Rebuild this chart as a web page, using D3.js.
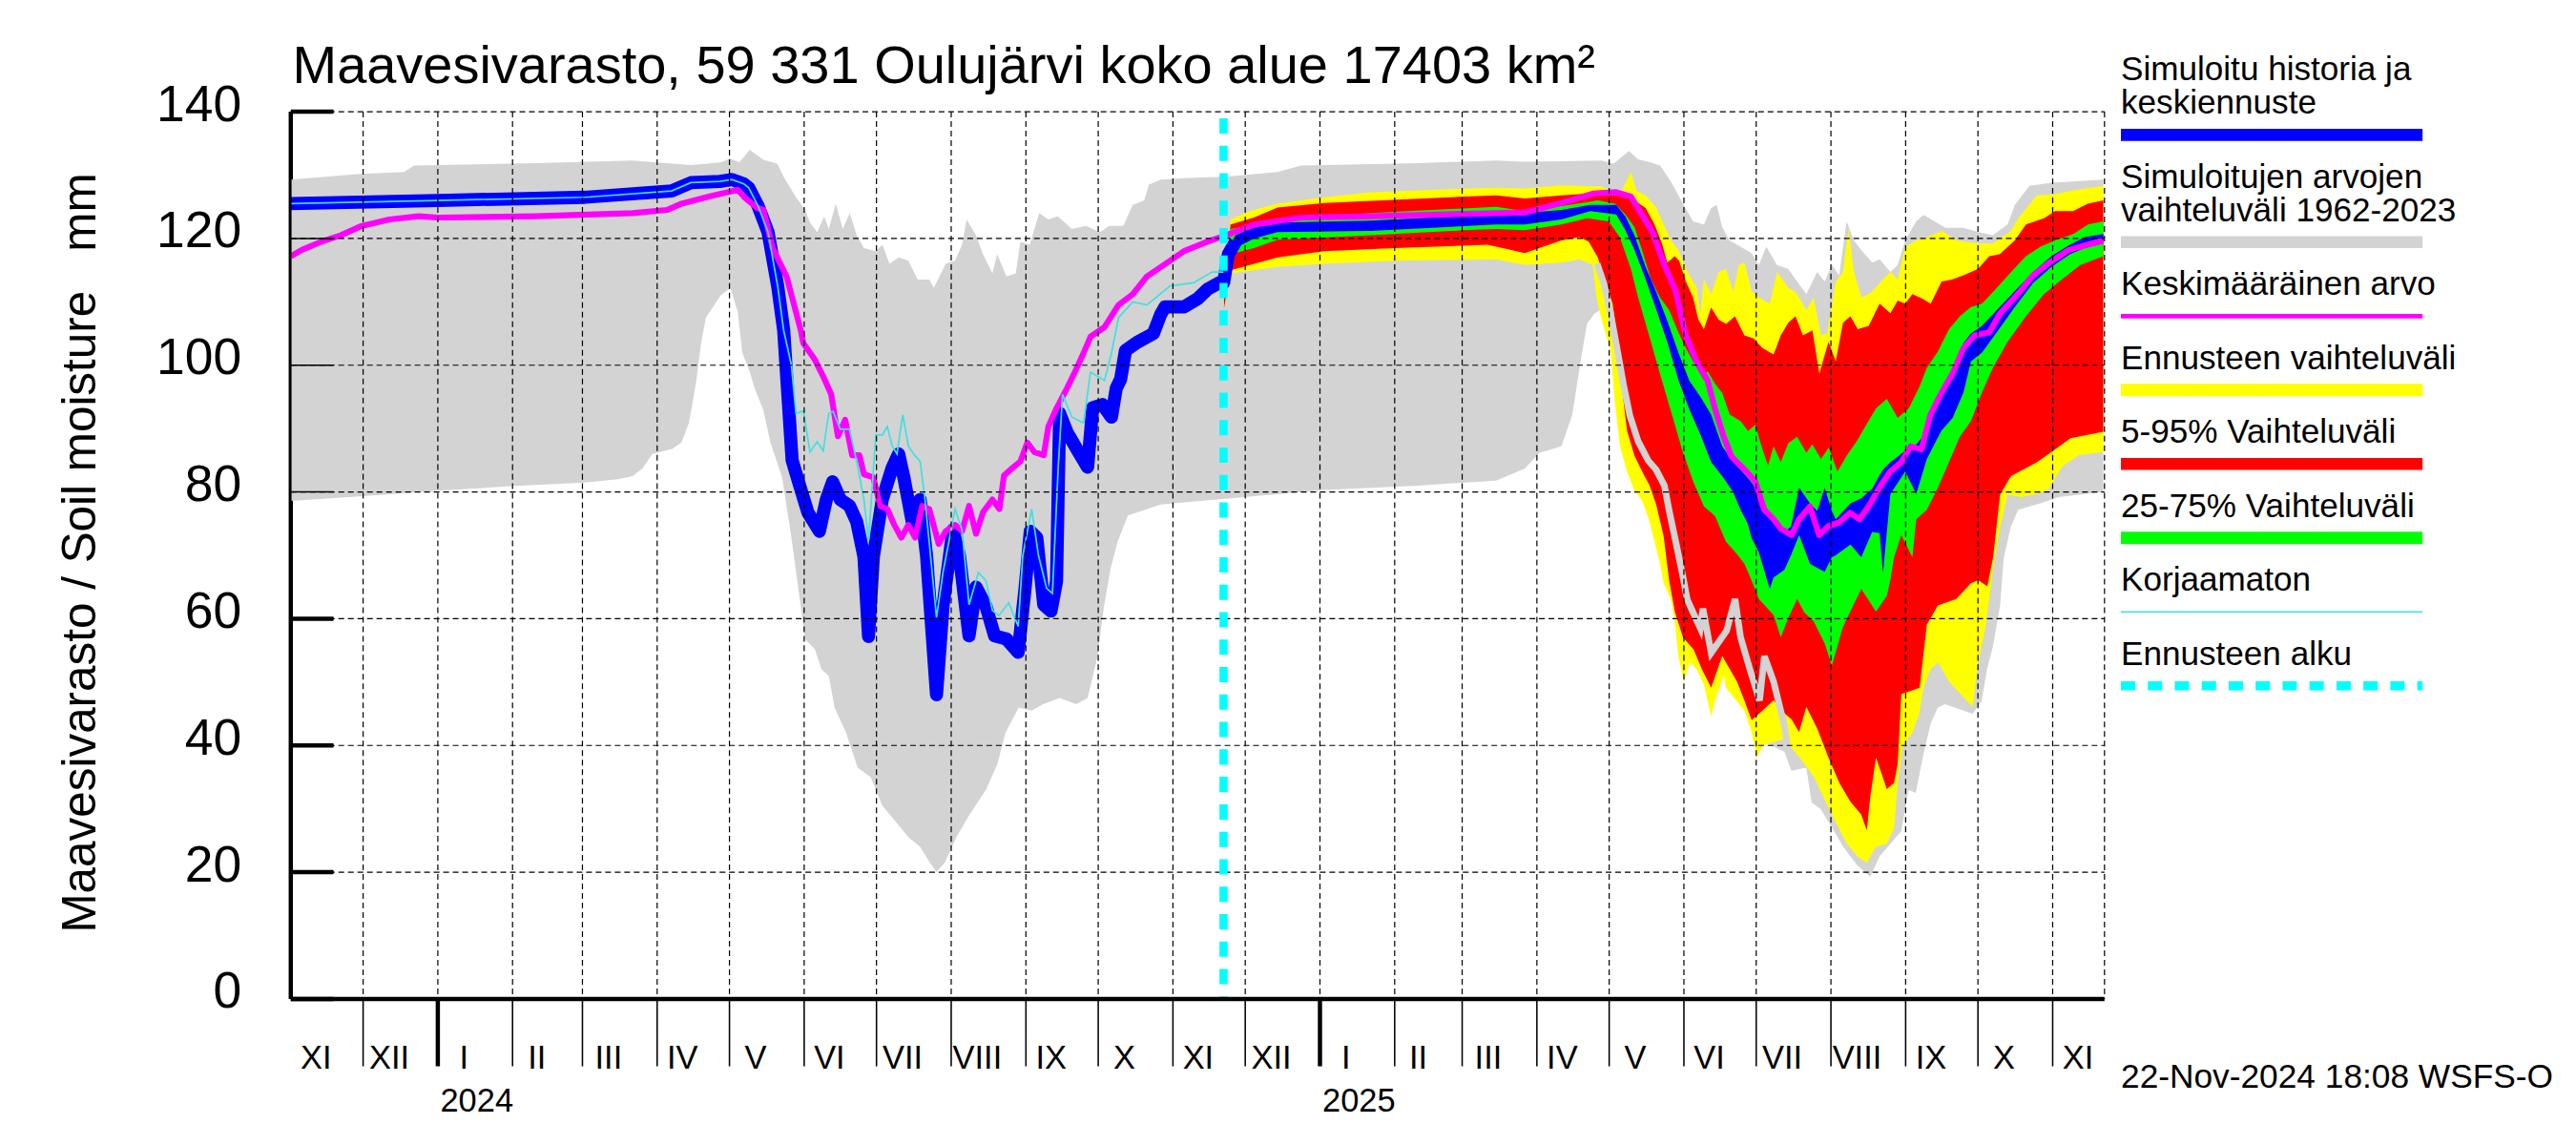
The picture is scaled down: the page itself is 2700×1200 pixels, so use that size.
<!DOCTYPE html>
<html lang="fi">
<head>
<meta charset="UTF-8">
<title>Maavesivarasto, 59 331 Oulujärvi koko alue</title>
<script src="https://d3js.org/d3.v7.min.js"></script>
<style>
  body { margin: 0; background: #fff; }
  text { font-family: "Liberation Sans", Arial, Helvetica, sans-serif; fill: #000; }
</style>
</head>
<body>
<script>
    // every point: [days since 1 Nov 2023, mm]
    var histBlue = [[0,125.5],[61,126],[122,126.5],[158,127.5],[166,128.8],[178,129],[183,129.3],[188,128.6],[190,128],[194,125],[198,121],[202,112.5],[204.5,105.5],[208,85],[210.5,81.8],[214.5,76.8],[219.3,73.8],[222.2,78.8],[224.8,81.6],[228,78.8],[231.8,77.8],[234.8,75.3],[237.8,69.8],[239.7,57.2],[241.7,69.8],[245.4,78.8],[249.5,83.8],[252.2,86],[254.3,82.4],[258.1,74.8],[261.1,78.8],[263.8,69.8],[267.9,48],[270.6,62],[274.7,74],[277.4,70],[281.4,57.3],[284.3,65],[288.4,62],[292,57.3],[296.9,56.8],[301.8,54.7],[304.7,65],[306.8,73.8],[309.5,72.8],[312.4,62.2],[315.4,61.2],[317.7,65.9],[319,92.4],[322.1,89.4],[325.9,86.9],[330.6,83.9],[332.7,93.3],[336.8,93.8],[340.5,91.8],[342.5,96.4],[344.3,97.8],[346.3,102.3],[351.1,103.6],[357.9,105],[360.9,108],[362.7,109.2],[370.6,109.2],[376.3,110.5],[380.4,112],[385.2,113],[387,113],[389,117.5],[392,119.5]];

    var histCyan = [[0,125.5],[61,126],[122,126.5],[158,127.5],[166,128.8],[178,129],[183,129.3],[188,128.6],[190,128],[194,125],[198,121],[202,112.5],[204.5,105.5],[207.7,100],[209.6,92.4],[212.7,92.8],[215.4,86.3],[218.4,87.9],[220.9,86.5],[223.2,92.4],[225,92.7],[228,89.9],[231.8,89.9],[234.8,84.8],[237.8,78.8],[239.7,72.3],[242.7,89],[245.4,89],[247.5,90.3],[249.5,87.3],[251.5,86],[253.9,92.2],[256.2,87.3],[258.4,86],[261.1,84.8],[262.9,79.6],[264.9,72],[267.9,60.2],[270.6,67.3],[275.6,77.3],[278.5,74],[281.4,62.2],[285.3,67.3],[288.4,66],[291.1,61.3],[293.8,60.5],[297.9,62.5],[301.8,58.8],[303.7,70],[307.4,77.3],[310.2,70],[313.6,64.8],[316,64],[318.4,83.9],[320.2,95.4],[324.1,91.8],[328.9,90.9],[331.8,98.9],[337.6,97.6],[340.5,101.9],[343.4,107.5],[349.3,110],[355.2,109.5],[364.7,112.5],[374.5,113],[382.2,114.7],[387,114.7]];

    var meanLine = [[0,117.2],[4.6,118.2],[12.7,119.5],[20.7,120.5],[28.8,121.9],[40.9,123],[53,123.5],[61.1,123.3],[101.6,123.5],[141.8,124],[156.1,124.5],[162.1,125.5],[174.2,126.7],[182.4,127.4],[185.4,127.7],[188.2,126.5],[193.6,124.8],[196.1,124.5],[199.9,118.5],[205.7,114],[211.6,105.5],[212.6,103.5],[217.4,100.9],[221.3,97.9],[224.2,95.4],[227,88.8],[230,91.4],[232.9,85.8],[235.9,85.8],[237.8,82.8],[241.7,82.3],[244.5,77.8],[247.5,77.3],[250.4,74.8],[253.3,72.8],[256.2,74.8],[259,72.8],[262,77.8],[264.9,77.3],[268.8,71.8],[271.7,73.8],[275.6,74.8],[278.5,73.8],[281.4,77.8],[284.3,73.4],[287.2,76.8],[291.1,78.8],[294,77.3],[295.9,82.6],[299.8,83.9],[302.7,84.8],[305.6,87.8],[308.5,86.3],[312.4,85.8],[314.3,90.3],[317.3,92.9],[322.1,96.4],[325.9,99.4],[328.9,101.9],[331.8,104.5],[337.6,106],[343.4,109.5],[349.3,111.2],[355.2,114],[362.9,116],[370.6,118],[380.4,119.5],[387.9,120.5],[399.7,122.2],[419.2,123.3],[448.2,123.5],[500.1,124],[512,124.1],[527,125.6],[540.6,127.1],[549.9,127.3],[556,126.6],[560.4,123.9],[565.1,120.9],[569.9,115.8],[574.5,111.8],[578.8,104.7],[583.3,100.6],[587.8,97.6],[590.9,93.1],[594.6,88.6],[597.7,85.6],[603,83.6],[607.6,81.7],[611.3,77.2],[615.2,75.7],[618.2,74.2],[622.7,73.2],[625.8,75.7],[630.3,77.7],[634.1,73.2],[637.9,74.6],[642.4,75.2],[646.9,76.7],[650.8,75.7],[654.6,77.7],[659.1,80.7],[663.6,83.2],[668.2,84.7],[672,87.2],[676.5,86.7],[680.3,92.2],[684.9,95.7],[689.5,98.7],[694,102.7],[698.6,104.7],[704.7,105.2],[709.2,108.2],[715.3,110.7],[722.9,114.2],[729.7,116.2],[737.7,118.2],[752,119.7]];

    var rangeHi = [[0,129.3],[28.6,130.2],[47,130.5],[51.1,131.5],[101.6,131.9],[141.8,132.3],[166.1,131.6],[178.3,132],[182.4,132.6],[186.1,132],[190.4,134],[196.1,132.4],[201.8,131.8],[204.8,129.5],[209.6,126.5],[213.4,124.5],[215.4,122.5],[218.4,121],[221.3,123.5],[223.2,121.5],[226.1,125.5],[229,121.5],[231.9,124],[234.8,120.5],[237.8,118.5],[242.6,118],[245.5,119],[248.4,116],[252.2,117],[256.2,116.5],[260.1,113.5],[264.9,113.5],[266.8,112.2],[271.7,116],[275.6,116.5],[278.5,119],[280.4,123],[284.3,120.5],[287.2,117.5],[291.1,114.5],[293.1,117.5],[296.9,114],[300.8,114.5],[302.7,119.5],[306.6,119],[310.5,124],[314.3,123],[318.2,123.5],[324.1,121.5],[329.9,122],[335.7,121],[339.6,122],[345.4,122],[349.3,125.3],[354.1,126],[356,128.5],[360.9,129.3],[370.6,129.5],[389.9,129.8],[409.4,130.5],[419.1,131.5],[467.6,131.9],[500.1,132.3],[512,132.1],[543.9,132.3],[548.8,131.8],[555.2,133.8],[559,132.5],[564.3,132],[568.1,131.5],[572.6,129],[577.2,125.8],[581.8,122.7],[586.3,122.2],[589.3,124.8],[591.6,125.3],[593.9,121.8],[596.9,119.7],[601.5,118.7],[606,117.7],[609.1,115.8],[612.2,118.7],[616.6,115.8],[621.2,115.2],[625,113.2],[628.8,111.2],[633.3,114.7],[636.4,113.2],[639.4,115.8],[642.4,114.2],[645.5,122.7],[648.5,119.7],[651.6,118.2],[656.1,116.2],[659.2,116.7],[663.7,114.7],[666.7,115.8],[669.8,119.7],[674.4,122.7],[677.4,123.7],[682,122.7],[686.5,121.7],[694,121.7],[700.2,121],[706.2,120.5],[712.3,122.2],[715.3,125.3],[721.4,128.3],[730.5,128.8],[752,129.3]];

    var rangeLo = [[0,78.6],[28.6,79.3],[61.1,80.2],[91.3,80.9],[121.8,81.5],[135.7,82],[141.8,82.5],[145.9,83.7],[150,86],[158.2,86.8],[162.1,87.8],[165.2,90.9],[168.2,97.4],[170.2,103.4],[172.2,107.5],[178.3,111],[182.4,112.2],[185.4,108.5],[187.4,101.9],[190.4,99],[192.4,96.4],[196.1,92.9],[199,87.8],[203.8,82.4],[207.7,72.8],[210.6,64.7],[213.5,56.7],[217.4,55.2],[220.2,52],[223.2,51],[225.6,46],[230.4,42],[235.2,36.5],[240.6,35],[245.4,30.5],[250.9,28],[256.3,25.5],[261.1,24],[265.2,21.5],[267.9,20],[271.3,21.5],[276.1,25.5],[281.5,29],[288.4,33],[293.1,37],[296.5,42],[302,46],[307.4,45.5],[312.2,46.5],[319,47.5],[325.9,46.5],[330.6,47.5],[334.7,54],[337.4,62],[340.2,68],[342.9,72],[347.3,76.3],[360.9,78],[389.9,79],[428.8,80.3],[467.6,81],[500.1,81.8],[512,83.7],[518.1,86.2],[527.2,87.2],[531.7,92.2],[534.7,99.6],[537.8,106.6],[540.8,108.1],[544.6,109.1],[546.7,108],[549.5,100],[552.9,88],[557,82],[561,80],[566.5,74],[569.2,68],[574,62],[577.4,53],[584.9,55],[589.7,48],[595.1,52],[603.3,46],[608.8,41],[614.2,40],[619.7,39],[622.6,36],[628.8,36.5],[631,31],[634.7,30],[639.5,27],[644.1,24],[650.1,21],[655.3,19.3],[659.2,22.5],[663.7,24.5],[668.2,26.5],[671.2,33],[674.2,32.5],[677.3,38.5],[680.4,43.5],[683.4,46],[686.4,46.5],[694,45.5],[697.8,45],[701.5,47],[703.8,52.1],[706.2,55.6],[709.2,62.1],[710.7,69.6],[713.7,74.6],[716.7,77.2],[725.9,78.2],[733.5,79.2],[752,80]];

    var grayLine = [[542,116],[544.7,113],[547.4,108.5],[550.1,103],[552.9,97],[555.6,92],[559,88],[563.1,85],[566.5,83.5],[569.9,81],[571.9,77],[574.7,72],[577.4,67],[579.4,63],[584.8,58.5],[585.9,61.6],[589.3,54.6],[595.7,58.1],[599.2,63.1],[601.5,57.1],[605.3,52.1],[609.4,47.1],[611.4,54.1],[615.2,50.1],[619.7,43.1],[621.2,39.1]];

    var fcYellowHi = [[387.2,113],[389.9,123],[397.8,124.3],[409.4,125.5],[424.7,126.3],[448.2,127.3],[483.1,127.8],[500.1,128],[512,127.9],[527.2,128.4],[544,128.2],[546.9,127.6],[550.8,126.5],[556,130.5],[558.3,127.5],[562.1,126.8],[566.6,124.8],[569.6,122.2],[572.6,119.7],[575.7,118.2],[578.8,115.2],[583.3,112.2],[584.8,108],[586.3,113.6],[589.3,111.2],[592.4,114.7],[595.4,115.2],[598.5,111.6],[600.7,115.8],[603.1,116.2],[606.1,111.6],[609.1,110.7],[613.6,109.7],[616.7,114.7],[621.3,112.2],[624.5,111.5],[628.8,108.7],[631.8,110.7],[634.9,104.7],[637.4,105],[641,113.2],[644,114.7],[646.3,121.7],[648.4,115],[651.6,110.7],[655.8,111.5],[660.6,113.6],[663.7,114.7],[666.7,113.5],[669.8,118.7],[674.4,119.7],[678.8,120.2],[684.9,121.2],[691,119.7],[700.1,119.2],[706.2,119.2],[713.7,121.2],[716.7,123.2],[724.4,126.8],[731.9,127],[739.5,127.6],[752,128.3]];

    var fcYellowLo = [[387.2,109],[389.9,114.5],[409.4,115.5],[428.8,116],[457.9,116.5],[500.1,116.7],[512,115.8],[527.2,116.2],[534.7,116.7],[540.2,115.8],[541.7,110.7],[544,107],[547.7,102.2],[549.2,94.7],[551.5,87.2],[554.4,83.2],[557.5,80.2],[560.6,78.7],[563.6,75.5],[565.8,72.2],[568.1,68.7],[569.6,65.6],[572.6,63.1],[574.2,59.6],[575.7,54.1],[578,50.1],[580.3,53.1],[583.3,52.1],[586.3,49.6],[589.3,44.6],[590.9,47.1],[594.6,51.1],[595.4,49.1],[603.1,45.5],[606.1,42.1],[608.4,38.1],[610.6,40],[619.7,41],[627.2,37.5],[632,35],[636.4,31.5],[640.8,28],[645.6,24.5],[650,22.5],[653.8,21.5],[657.6,24],[662.2,24.5],[665.2,27],[666.7,34],[668.8,40],[672.8,42],[675.6,45],[677.4,49.1],[680.4,52.1],[683.5,53.1],[688,50.1],[694,47.6],[697.8,46.1],[700.1,53.1],[703.1,58.6],[706.3,68.1],[709.2,74.6],[712.3,79.6],[717.9,79.2],[724.7,79.7],[729.5,80.5],[734.9,84],[741.8,85.8],[752,86.3]];

    var fcRedHi = [[387.2,113],[389.9,122.2],[399.6,123.3],[409.4,124.9],[428.8,125.6],[486.9,126.6],[500.1,126.8],[512,126.3],[527.2,126.8],[539.2,127.1],[551.4,126.8],[557.5,126],[562.1,124.8],[565.8,122.2],[568.9,119.2],[571.1,116.2],[574.2,117.2],[576,116.5],[578.8,113.2],[581.8,110.7],[584,107.2],[586.3,105.7],[589.3,109.1],[592.4,107.2],[595.5,106.5],[599.2,107.7],[603.1,104.7],[606.9,104.2],[610.6,102.7],[615.2,101.7],[618.2,104.7],[621.3,106.7],[624.3,107.7],[627.4,104.7],[631.3,105.5],[634.2,98.7],[638,103.7],[641,100.6],[644,106.7],[647.1,107.7],[650.1,105.7],[654.7,106.2],[659.2,109.7],[663.7,108.2],[666.7,110.2],[669.8,109.7],[672.8,111.2],[676.9,110.5],[680.4,109.7],[684.9,113.2],[689.2,113.5],[694,114.2],[700.1,115.2],[704.7,117.2],[709,117.5],[715.3,119.7],[719.9,122.2],[727.4,123.2],[732,124.3],[739.5,124.3],[745.5,125.5],[752,126]];

    var fcRedLo = [[387.2,109],[389.9,115],[409.4,117],[428.8,118],[457.9,118.5],[496.6,119],[512,117.7],[527.2,119.7],[534.7,120.2],[538.5,119.5],[542.3,117],[544.6,114],[548.4,109.7],[550.6,103.7],[552.2,96.7],[554.4,89.7],[557.5,85.7],[561,83],[563.8,81],[566.5,78],[569.6,73],[571.9,66],[574.3,61],[577.6,57.1],[582.1,55.1],[585.5,52],[589.3,49.1],[593.9,54.1],[600,50.1],[603.1,47.1],[606.1,44],[610.6,45.5],[615.2,47.1],[619.7,45.1],[622.7,44.1],[625.8,42.1],[628.8,46.1],[633.4,42.6],[638,38.1],[642.5,34.1],[647.1,31.1],[651.6,29.1],[653.9,26.6],[655.4,32.1],[657.7,38.1],[662.2,33.1],[665.2,34.1],[666.7,37.1],[668.2,48.1],[675.8,49.1],[678.8,59.1],[683.4,62.1],[691,63.1],[697.1,65.6],[700.1,66.1],[703.9,65.1],[706.3,69.7],[709.2,79.6],[713.7,82.5],[724.6,84.7],[732,86.7],[738.4,88.5],[752,89.5]];

    var fcGreenHi = [[387.2,113],[389.9,121.5],[409.4,122.8],[448.2,124],[500.1,125],[512,124.3],[527.2,125.1],[542.3,126],[549.5,125.5],[553.7,123.8],[557.5,121.8],[560.6,118.2],[564.3,113.6],[568.1,110.7],[571.9,108.7],[575.7,105.2],[578.8,102.7],[581.8,100.6],[586.3,97.6],[587.8,99.1],[590.9,97.1],[593.9,95.6],[597,92.2],[601.5,91.2],[604.6,89.6],[607.6,90.6],[610.6,86.7],[612.9,84.2],[615.2,87.2],[618.2,84.7],[621.3,87.7],[625,88.7],[628.8,86.2],[631.3,87.5],[634.9,85.2],[638.1,87],[641.7,83.2],[645.5,85.7],[650,88.2],[653.8,90.7],[657.7,93.2],[662.2,94.7],[666.7,91.7],[671.3,93.2],[675.8,96.7],[678.8,99.6],[683.4,102.2],[688,105.7],[692.5,107.7],[697.1,109.2],[701.7,109.7],[707.8,112.2],[713.8,114.7],[719.9,117.2],[726,118.7],[732,119.7],[739.6,120.7],[745.7,122.2],[752,122.7]];

    var fcGreenLo = [[387.2,112.5],[389.9,117.5],[399.6,118.5],[409.4,119.8],[448.2,120.5],[486.9,121.3],[500.1,121.5],[512,121.3],[527.2,122.2],[537.8,123.2],[546.8,122.7],[551.4,120.2],[556,115.2],[559,110.7],[562.8,105.7],[566.6,100.6],[571.1,94.7],[574.2,90.7],[577.2,86.7],[581.8,81.7],[586.3,77.7],[590.9,76.2],[595.4,72.2],[600,70.2],[603.1,68.7],[606.1,66],[609.1,63.1],[615.2,60.6],[618.2,57.1],[621.3,60.1],[625,63.1],[627.9,61],[631.8,59.6],[636.4,56.1],[639.4,52.6],[643.9,58.6],[647,61.1],[651.6,64.7],[657.7,61.1],[662.2,63.6],[663.7,66.2],[665.2,69.7],[668.2,73.2],[672.8,69.7],[674.4,75.7],[678.8,77.2],[683.4,80.7],[688,84.7],[692.5,88.7],[697.1,91.2],[701.7,95.7],[706.2,99.6],[712.3,103.7],[719.9,107.7],[727.4,111.2],[735,113.6],[742.5,115.8],[752,117.2]];

    var fcBlueHi = [[387.2,113.5],[389.1,118.5],[392,120.5],[399.7,121.8],[409.4,122.5],[448.2,122.8],[500.1,123.8],[512,124],[527.2,124.5],[539.2,125.3],[549.9,125.3],[553.7,123.5],[557.5,120.5],[562.1,115.5],[566.6,111.5],[571.1,107],[575.7,102],[580.3,97.5],[584.9,95],[589.3,92.2],[593.9,87.2],[598.4,84.7],[601.5,83.5],[604.5,82.2],[606.1,81.5],[609.1,79.7],[613.6,76.5],[615.2,75.2],[619.7,73.7],[622.4,74.5],[625.8,80.7],[630.3,78.2],[633.3,77],[636.4,80.7],[639.4,77],[641,75.7],[647.1,78.2],[651.6,79],[656.1,80.5],[659.2,82.7],[660.6,83.5],[663.7,84.7],[669.8,86.5],[674.4,87.5],[678.8,89.5],[681.9,93.7],[684.9,95.7],[689.5,99.5],[694,103.5],[697.1,105],[701.7,106.2],[707.8,108.7],[715.3,111.7],[722.9,114.7],[730.5,117.2],[738.1,119],[744.2,120.2],[752,120.7]];

    var fcBlueLo = [[387.2,112.5],[389.1,116.5],[392,118.5],[399.7,120],[409.4,121],[448.2,121.2],[500.1,122.2],[512,122.2],[527.2,123],[539.2,124.3],[549.9,123.8],[553.7,121.3],[557.5,118.2],[562.1,113.6],[566.6,108.7],[571.1,103.7],[575.7,97.7],[580.3,93],[584.9,89],[589.3,84.7],[593.9,82.5],[598.4,80],[601.5,77.2],[604.5,75],[606.1,72.7],[609.1,70.5],[613.6,64.7],[615.2,66.5],[619.7,67.7],[622.4,70],[625.8,73.2],[630.3,68.7],[633.3,68],[636.4,67.4],[639.4,69.7],[641,70],[647.1,71.7],[651.6,69.7],[656.1,73.7],[659.2,73.5],[660.6,67.2],[663.7,79.7],[669.8,83.2],[674.4,79.7],[678.8,85.2],[681.9,87.5],[684.9,89.7],[689.5,91.7],[694,95.7],[697.1,100.6],[701.7,102],[707.8,105.2],[715.3,109.2],[722.9,113],[730.5,115.5],[738.1,117.5],[744.2,118.5],[752,119.2]];

    var forecastStart = 387;   // 22 Nov 2024
    var monthNames = ["I","II","III","IV","V","VI","VII","VIII","IX","X","XI","XII"];
    var yTicks = [0, 20, 40, 60, 80, 100, 120, 140];
    var legendLabels = [
        ["Simuloitu historia ja", "keskiennuste"],
        ["Simuloitujen arvojen", "vaihteluväli 1962-2023"],
        ["Keskimääräinen arvo"],
        ["Ennusteen vaihteluväli"],
        ["5-95% Vaihteluväli"],
        ["25-75% Vaihteluväli"],
        ["Korjaamaton"],
        ["Ennusteen alku"]
    ];
    var legendStyle = [
        {color: "#0000ff", size: 7.3},
        {color: "#d3d3d3", size: 7.3},
        {color: "#ff00ff", size: 2.8},
        {color: "#ffff00", size: 7.6},
        {color: "#ff0000", size: 7.3},
        {color: "#00ff00", size: 7.6},
        {color: "#40e0e0", size: 1},
        {color: "#00ffff", size: 5.6, dash: "8.7,7.7"}
    ];

    var svg = d3.select("body")
                .append("svg")
                .attr("width", 2700)
                .attr("height", 1200)
                .attr("viewBox", "0 0 1568 696.9");

    var t0 = Date.UTC(2023, 10, 1);
    function day(d) { return new Date(t0 + d * 864e5); }
    var tEnd = day(752.5);

    var x = d3.scaleUtc().domain([day(0), tEnd]).range([177, 1281]);
    var y = d3.scaleLinear().domain([0, 140]).range([608, 68]);

    var line = d3.line()
                 .x(function (p) { return x(day(p[0])); })
                 .y(function (p) { return y(p[1]); });
    function band(hi, lo) { return line(hi.concat(lo.slice().reverse())) + "Z"; }

    var months = d3.utcMonth.range(day(0), tEnd);

    svg.append("clipPath").attr("id", "plot")
       .append("rect").attr("x", 177).attr("y", 68).attr("width", 1104).attr("height", 540);

    // thick left axis, later partly covered by the bands
    svg.append("line").attr("x1", 177).attr("x2", 177).attr("y1", 68).attr("y2", 608)
       .attr("stroke", "#000").attr("stroke-width", 2.6);
    svg.selectAll(".tickThick").data(yTicks).enter().append("line")
       .attr("x1", 177).attr("x2", 203)
       .attr("y1", function (d) { return y(d); }).attr("y2", function (d) { return y(d); })
       .attr("stroke", "#000").attr("stroke-width", 2.6);

    var plot = svg.append("g").attr("clip-path", "url(#plot)");

    plot.append("path").attr("d", band(rangeHi, rangeLo)).attr("fill", "#d3d3d3");
    plot.append("path").attr("d", band(fcYellowHi, fcYellowLo)).attr("fill", "#ffff00");
    plot.append("path").attr("d", band(fcRedHi, fcRedLo)).attr("fill", "#ff0000");
    plot.append("path").attr("d", band(fcGreenHi, fcGreenLo)).attr("fill", "#00ff00");
    plot.append("path").attr("d", band(fcBlueHi, fcBlueLo)).attr("fill", "#0000ff");

    // grid
    svg.selectAll(".hgrid").data(yTicks.slice(1)).enter().append("line")
       .attr("x1", 177).attr("x2", 1281)
       .attr("y1", function (d) { return y(d); }).attr("y2", function (d) { return y(d); })
       .attr("stroke", "#000").attr("stroke-width", 0.7).attr("stroke-dasharray", "3.5,2.3");
    svg.selectAll(".vgrid").data(months.slice(1).concat([tEnd])).enter().append("line")
       .attr("x1", function (d) { return x(d); }).attr("x2", function (d) { return x(d); })
       .attr("y1", 68).attr("y2", 608)
       .attr("stroke", "#000").attr("stroke-width", 0.7).attr("stroke-dasharray", "3.5,2.3");
    svg.append("line").attr("x1", 177).attr("x2", 177).attr("y1", 68).attr("y2", 608)
       .attr("stroke", "#000").attr("stroke-width", 0.9);
    svg.selectAll(".tickThin").data(yTicks).enter().append("line")
       .attr("x1", 177).attr("x2", 203)
       .attr("y1", function (d) { return y(d); }).attr("y2", function (d) { return y(d); })
       .attr("stroke", "#000").attr("stroke-width", 0.9);

    plot.append("path").attr("d", line(grayLine)).attr("fill", "none")
        .attr("stroke", "#d3d3d3").attr("stroke-width", 4);
    plot.append("path").attr("d", line(histBlue)).attr("fill", "none")
        .attr("stroke", "#0000ff").attr("stroke-width", 8).attr("stroke-linejoin", "round");
    plot.append("path").attr("d", line(meanLine)).attr("fill", "none")
        .attr("stroke", "#ff00ff").attr("stroke-width", 3.6).attr("stroke-linejoin", "round");
    plot.append("path").attr("d", line(histCyan)).attr("fill", "none")
        .attr("stroke", "#40e0e0").attr("stroke-width", 1);

    svg.append("line")
       .attr("x1", x(day(forecastStart))).attr("x2", x(day(forecastStart)))
       .attr("y1", 72).attr("y2", 608)
       .attr("stroke", "#00ffff").attr("stroke-width", 5).attr("stroke-dasharray", "9.3,7.4");

    // x axis
    svg.append("line").attr("x1", 177).attr("x2", 1281).attr("y1", 608).attr("y2", 608)
       .attr("stroke", "#000").attr("stroke-width", 2.6);
    svg.selectAll(".mtick").data(months.slice(1)).enter().append("line")
       .attr("x1", function (d) { return x(d); }).attr("x2", function (d) { return x(d); })
       .attr("y1", 608).attr("y2", 649)
       .attr("stroke", "#000")
       .attr("stroke-width", function (d) { return d.getUTCMonth() === 0 ? 2.6 : 0.9; });
    svg.selectAll(".mlabel").data(months).enter().append("text")
       .attr("x", function (d) {
           var next = d3.utcMonth.offset(d, 1);
           return x(d) + 0.35 * (x(next) - x(d));
       })
       .attr("y", 650.5)
       .attr("text-anchor", "middle")
       .attr("font-size", 20)
       .text(function (d) { return monthNames[d.getUTCMonth()]; });
    svg.selectAll(".ylabelYear").data(months.filter(function (d) { return d.getUTCMonth() === 0; }))
       .enter().append("text")
       .attr("x", function (d) { return x(d) + 1.5; })
       .attr("y", 676.5)
       .attr("font-size", 20)
       .text(function (d) { return d.getUTCFullYear(); });

    // y axis labels
    svg.selectAll(".ytext").data(yTicks).enter().append("text")
       .attr("x", 147).attr("y", function (d) { return y(d) + 5.5; })
       .attr("text-anchor", "end").attr("font-size", 31)
       .text(function (d) { return d; });
    svg.append("text")
       .attr("transform", "translate(58,336.5) rotate(-90)")
       .attr("text-anchor", "middle").attr("font-size", 28.7)
       .attr("xml:space", "preserve")
       .text("Maavesivarasto / Soil moisture   mm");

    svg.append("text").attr("x", 178).attr("y", 50.3).attr("font-size", 32.5)
       .text("Maavesivarasto, 59 331 Oulujärvi koko alue 17403 km²");

    svg.append("text").attr("x", 1291).attr("y", 662).attr("font-size", 20.5)
       .text("22-Nov-2024 18:08 WSFS-O");

    // legend
    var ly = 49;
    legendLabels.forEach(function (lines, i) {
        var st = legendStyle[i];
        lines.forEach(function (t, j) {
            svg.append("text").attr("x", 1291).attr("y", ly + j * 20.3)
               .attr("font-size", 20.4).text(t);
        });
        var base = ly + (lines.length - 1) * 20.3;
        var cy = base + 12.8;
        var sw = svg.append("line").attr("x1", 1291).attr("x2", 1474.6)
                    .attr("y1", cy).attr("y2", cy)
                    .attr("stroke", st.color).attr("stroke-width", st.size);
        if (st.dash) sw.attr("stroke-dasharray", st.dash);
        ly = base + 45;
    });
</script>
</body>
</html>
